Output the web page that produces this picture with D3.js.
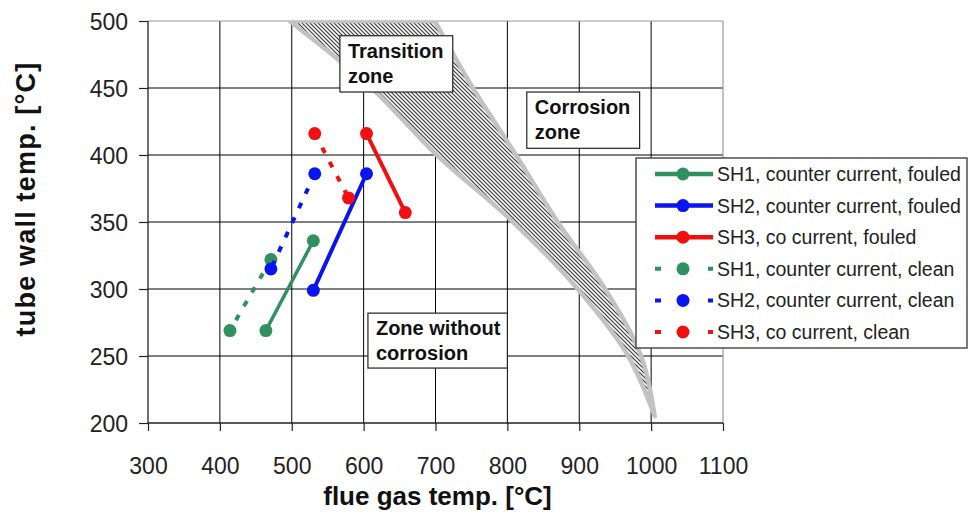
<!DOCTYPE html>
<html>
<head>
<meta charset="utf-8">
<script src="https://cdn.jsdelivr.net/npm/d3@7"></script>
<style>
  body { margin: 0; background: #fff; }
  svg { font-family: "Liberation Sans", Arial, sans-serif; }
  .grid line { stroke: #000; stroke-width: 1; }
  .box { fill: #fff; stroke: #222; stroke-width: 1.2; }
  .zone { font-weight: bold; font-size: 20px; fill: #111; }
  .tick-label { font-size: 23px; fill: #222; }
  .axis-title { font-weight: bold; font-size: 26px; fill: #111; }
  .legend-text { font-size: 19.5px; fill: #222; }
</style>
</head>
<body>
<script>
// axis ticks
var xTicks = [300, 400, 500, 600, 700, 800, 900, 1000, 1100];
var yTicks = [200, 250, 300, 350, 400, 450, 500];

// the six series: [flue gas temp, tube wall temp]
var seriesNames = [
  "SH1, counter current, fouled",
  "SH2, counter current, fouled",
  "SH3, co current, fouled",
  "SH1, counter current, clean",
  "SH2, counter current, clean",
  "SH3, co current, clean"
];
var sh1Fouled = [[530, 336], [464, 269]];
var sh2Fouled = [[604, 386], [530, 299]];
var sh3Fouled = [[604, 416], [658, 357]];
var sh1Clean = [[471, 322], [414, 269]];
var sh2Clean = [[532, 386], [471, 315]];
var sh3Clean = [[532, 416], [579, 368]];

// transition band: wall temp and the two flue gas temp edges
var bandWall = [500, 450, 400, 350, 300, 250, 205];
var bandLow = [497, 611, 702, 808, 898, 968, 1005];
var bandHigh = [699, 752, 812, 870, 936, 986, 1005];

function put() {
  var svgWidth = 969;
  var svgHeight = 515;
  var margin = {top: 21, left: 148};
  var chartWidth = 575;
  var chartHeight = 402;

  var seriesData = [sh1Fouled, sh2Fouled, sh3Fouled, sh1Clean, sh2Clean, sh3Clean];
  var colors = ["#2f9160", "#0a14f0", "#f01010", "#2f9160", "#0a14f0", "#f01010"];
  var dashed = [false, false, false, true, true, true];

  var svg = d3.select("body").append("svg")
    .attr("width", svgWidth)
    .attr("height", svgHeight);

  var defs = svg.append("defs");
  var pat = defs.append("pattern")
    .attr("id", "hatch")
    .attr("patternUnits", "userSpaceOnUse")
    .attr("width", 4).attr("height", 4);
  pat.append("rect").attr("width", 4).attr("height", 4).attr("fill", "#fff");
  pat.append("path")
    .attr("d", "M-1,-1 L5,5 M3,-1 L5,1 M-1,3 L1,5")
    .attr("stroke", "#3a3a3a").attr("stroke-width", 1.2);
  defs.append("clipPath").attr("id", "plotclip")
    .append("rect").attr("width", chartWidth).attr("height", chartHeight);

  var chart = svg.append("g").attr("transform", "translate(" + margin.left + "," + margin.top + ")");

  var xScale = d3.scaleLinear().domain([300, 1100]).range([0, chartWidth]);
  var yScale = d3.scaleLinear().domain([200, 500]).range([chartHeight, 0]);

  // grid
  var grid = chart.append("g").attr("class", "grid");
  grid.selectAll(".vx").data(xTicks.slice(1, -1)).enter().append("line")
    .attr("x1", d => xScale(d)).attr("x2", d => xScale(d))
    .attr("y1", 0).attr("y2", chartHeight);
  grid.selectAll(".hy").data(yTicks.slice(1, -1)).enter().append("line")
    .attr("y1", d => yScale(d)).attr("y2", d => yScale(d))
    .attr("x1", 0).attr("x2", chartWidth);
  // top / right frame in grey
  chart.append("line").attr("x1", 0).attr("x2", chartWidth).attr("y1", 0).attr("y2", 0)
    .attr("stroke", "#999").attr("stroke-width", 1.2);
  chart.append("line").attr("x1", chartWidth).attr("x2", chartWidth).attr("y1", 0).attr("y2", chartHeight)
    .attr("stroke", "#999").attr("stroke-width", 1.2);

  // transition band
  var bandRows = bandWall.map((w, i) => ({w: w, lo: bandLow[i], hi: bandHigh[i]}));
  var band = d3.area()
    .y(d => yScale(d.w))
    .x0(d => xScale(d.lo))
    .x1(d => xScale(d.hi))
    .curve(d3.curveCatmullRom);
  chart.append("path")
    .datum(bandRows)
    .attr("clip-path", "url(#plotclip)")
    .attr("d", band)
    .attr("fill", "url(#hatch)")
    .attr("stroke", "#c2c2c2")
    .attr("stroke-width", 4.5)
    .attr("stroke-linejoin", "round");

  // axes
  var xAxis = d3.axisBottom(xScale).tickValues(xTicks).tickSize(8).tickFormat(d3.format("d"));
  var yAxis = d3.axisLeft(yScale).tickValues(yTicks).tickSize(9).tickFormat(d3.format("d"));

  var gx = chart.append("g").attr("transform", "translate(0," + chartHeight + ")").call(xAxis);
  gx.attr("font-family", null).attr("font-size", null);
  gx.select(".domain").attr("d", "M0,0H" + chartWidth).attr("stroke", "#222").attr("stroke-width", 1.3);
  gx.selectAll(".tick line").attr("stroke", "#222").attr("stroke-width", 1.2);
  gx.selectAll(".tick text").attr("class", "tick-label")
    .attr("y", 51).attr("dy", "0em").attr("fill", "#222");

  var gy = chart.append("g").call(yAxis);
  gy.attr("font-family", null).attr("font-size", null);
  gy.select(".domain").attr("d", "M0,0V" + chartHeight).attr("stroke", "#222").attr("stroke-width", 1.3);
  gy.selectAll(".tick line").attr("stroke", "#222").attr("stroke-width", 1.2);
  gy.selectAll(".tick text").attr("class", "tick-label")
    .attr("x", -20).attr("dy", "0.36em").attr("fill", "#222");

  // series
  var line = d3.line().x(d => xScale(d[0])).y(d => yScale(d[1]));
  seriesData.forEach(function (pts, i) {
    var g = chart.append("g");
    g.append("path")
      .datum(pts)
      .attr("d", line)
      .attr("fill", "none")
      .attr("stroke", colors[i])
      .attr("stroke-width", dashed[i] ? 4 : (i === 0 ? 3.5 : 4))
      .attr("stroke-dasharray", dashed[i] ? "6,10" : null);
    g.selectAll("circle").data(pts).enter().append("circle")
      .attr("cx", d => xScale(d[0]))
      .attr("cy", d => yScale(d[1]))
      .attr("r", 6.5)
      .attr("fill", colors[i]);
  });

  // zone labels
  var zones = [
    {lines: ["Transition", "zone"], x0: 567, x1: 724, y0: 489, y1: 447},
    {lines: ["Corrosion", "zone"], x0: 827, x1: 984, y0: 447, y1: 405},
    {lines: ["Zone without", "corrosion"], x0: 606, x1: 800, y0: 282, y1: 241}
  ];
  zones.forEach(function (z) {
    var bx = xScale(z.x0), by = yScale(z.y0);
    chart.append("rect").attr("class", "box")
      .attr("x", bx).attr("y", by)
      .attr("width", xScale(z.x1) - bx)
      .attr("height", yScale(z.y1) - by);
    z.lines.forEach(function (t, k) {
      chart.append("text").attr("class", "zone")
        .attr("x", bx + 8).attr("y", by + 22 + k * 25).text(t);
    });
  });

  // axis titles
  svg.append("text").attr("class", "axis-title")
    .attr("x", margin.left + chartWidth / 2 + 2).attr("y", 505)
    .attr("text-anchor", "middle")
    .text("flue gas temp. [\u00b0C]");
  svg.append("text").attr("class", "axis-title")
    .attr("transform", "translate(35," + 199 + ") rotate(-90)")
    .attr("text-anchor", "middle")
    .attr("letter-spacing", 1.2)
    .style("font-size", "27px")
    .text("tube wall temp. [\u00b0C]");

  // legend
  var legend = svg.append("g").attr("transform", "translate(636,158)");
  legend.append("rect").attr("width", 331).attr("height", 190)
    .attr("fill", "#fff").attr("stroke", "#333").attr("stroke-width", 1.3);
  seriesNames.forEach(function (name, i) {
    var ly = 16 + i * 31.6;
    var item = legend.append("g").attr("transform", "translate(0," + ly + ")");
    item.append("line")
      .attr("x1", 19).attr("x2", 77).attr("y1", 0).attr("y2", 0)
      .attr("stroke", colors[i])
      .attr("stroke-width", dashed[i] ? 4 : 4.5)
      .attr("stroke-dasharray", dashed[i] ? "6,20.5" : null);
    item.append("circle").attr("cx", 47).attr("cy", 0).attr("r", 6.5).attr("fill", colors[i]);
    item.append("text").attr("class", "legend-text")
      .attr("x", 81).attr("y", 7).text(name);
  });
}

window.onload = put;
</script>
</body>
</html>
